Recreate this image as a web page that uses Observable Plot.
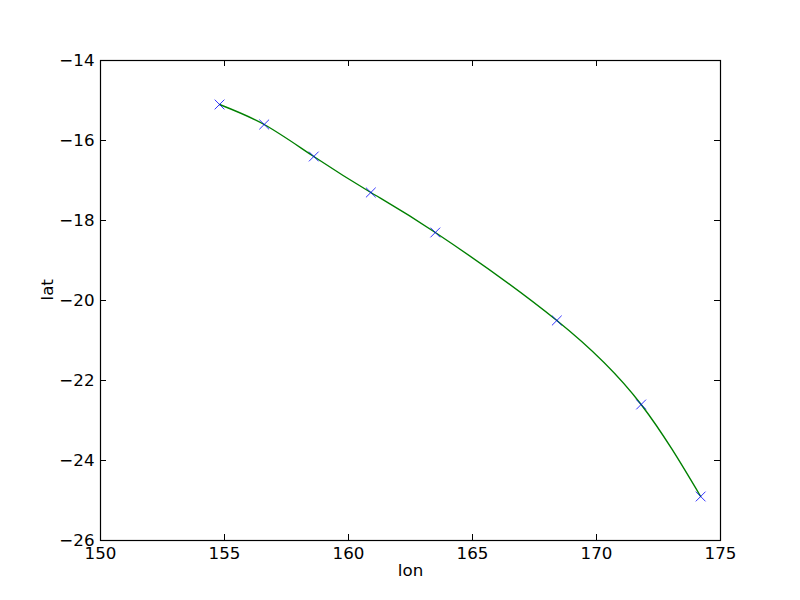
<!DOCTYPE html>
<html>
<head>
<meta charset="utf-8">
<script src="https://cdn.jsdelivr.net/npm/d3@7"></script>
<script src="https://cdn.jsdelivr.net/npm/@observablehq/plot@0.6"></script>
<style>
  html, body { margin: 0; padding: 0; background: #fff; }
  #chart svg { display: block; }
</style>
</head>
<body>
<div id="chart"></div>
<script>
const lon = [154.8, 156.6, 158.6, 160.9, 163.5, 168.4, 171.8, 174.2];
const lat = [-15.1, -15.6, -16.4, -17.3, -18.3, -20.5, -22.6, -24.9];
const xTicks = [150, 155, 160, 165, 170, 175];
const yTicks = [-26, -24, -22, -20, -18, -16, -14];

const data = lon.map((x, i) => ({lon: x, lat: lat[i]}));
const font = "DejaVu Sans";
const fs = 16.7;
const innerW = 620, innerH = 480, tl = 6;

const chart = Plot.plot({
  width: 800,
  height: 600,
  marginLeft: 100,
  marginRight: 80,
  marginTop: 60,
  marginBottom: 60,
  style: {fontFamily: font, fontSize: fs + "px", background: "#fff", color: "#000"},
  x: {domain: [150, 175]},
  y: {domain: [-26, -14]},
  marks: [
    Plot.axisX(xTicks, {anchor: "bottom", tickSize: 0, tickPadding: 7, label: null, fontSize: fs, tickFormat: d => String(d)}),
    Plot.axisY(yTicks, {anchor: "left", tickSize: 0, tickPadding: 6, label: null, fontSize: fs, tickFormat: d => d < 0 ? "\u2212" + Math.abs(d) : String(d)}),
    Plot.tickX(xTicks, {x: d => d, insetTop: innerH - tl, stroke: "#000", strokeWidth: 1}),
    Plot.tickX(xTicks, {x: d => d, insetBottom: innerH - tl, stroke: "#000", strokeWidth: 1}),
    Plot.tickY(yTicks, {y: d => d, insetRight: innerW - tl, stroke: "#000", strokeWidth: 1}),
    Plot.tickY(yTicks, {y: d => d, insetLeft: innerW - tl, stroke: "#000", strokeWidth: 1}),
    Plot.line(data, {x: "lon", y: "lat", curve: "natural", stroke: "#008000", strokeWidth: 1.4}),
    Plot.dot(data, {x: "lon", y: "lat", symbol: "times", r: 4.5, stroke: "#0000ff", strokeWidth: 0.8}),
    Plot.frame({stroke: "#000", strokeWidth: 1.2}),
    Plot.text(["lon"], {text: d => d, frameAnchor: "bottom", dy: 35, fontSize: fs, fill: "#000"}),
    Plot.text(["lat"], {text: d => d, frameAnchor: "left", dx: -53, rotate: -90, fontSize: fs, fill: "#000"})
  ]
});
document.getElementById("chart").appendChild(chart);
</script>
</body>
</html>
